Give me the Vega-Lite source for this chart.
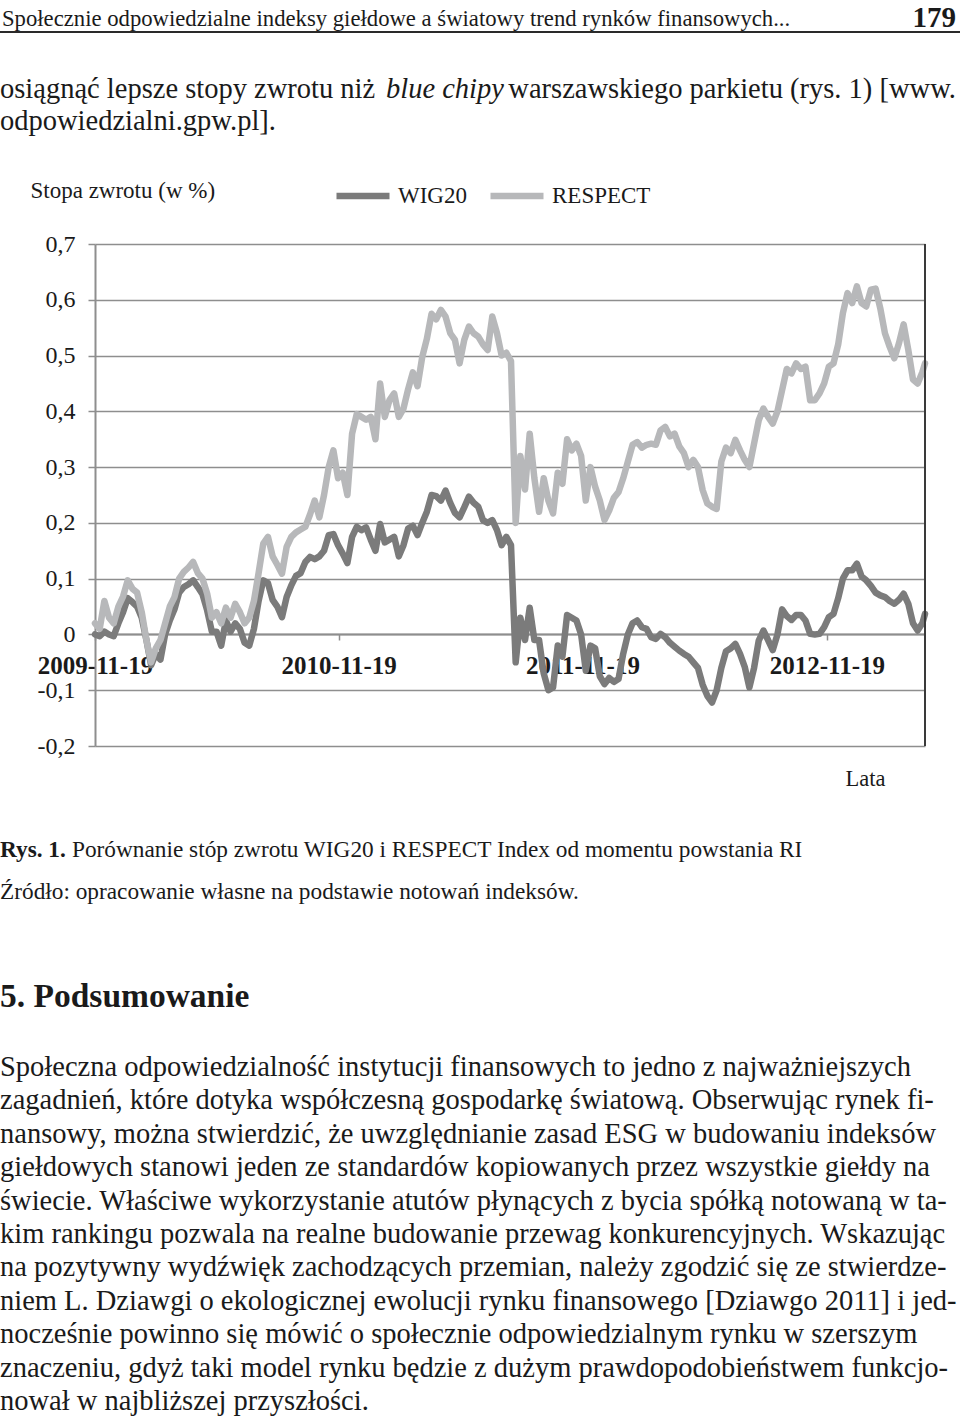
{
  "$schema": "https://vega.github.io/schema/vega-lite/v6.json",
  "width": 960,
  "height": 1418,
  "autosize": {"type": "none"},
  "padding": 0,
  "background": "#ffffff",
  "config": {"view": {"stroke": null}, "font": "Liberation Serif"},
  "datasets": {
    "returns": [
      {"date": "2009-11-19", "WIG20": 0.0, "RESPECT": 0.02},
      {"date": "2009-11-26", "WIG20": -0.003, "RESPECT": 0.01},
      {"date": "2009-12-03", "WIG20": 0.005, "RESPECT": 0.06},
      {"date": "2009-12-10", "WIG20": 0.0, "RESPECT": 0.03},
      {"date": "2009-12-17", "WIG20": -0.003, "RESPECT": 0.02},
      {"date": "2009-12-24", "WIG20": 0.02, "RESPECT": 0.05},
      {"date": "2009-12-31", "WIG20": 0.04, "RESPECT": 0.068},
      {"date": "2010-01-07", "WIG20": 0.065, "RESPECT": 0.097},
      {"date": "2010-01-14", "WIG20": 0.058, "RESPECT": 0.082},
      {"date": "2010-01-21", "WIG20": 0.05, "RESPECT": 0.075},
      {"date": "2010-01-28", "WIG20": 0.03, "RESPECT": 0.04},
      {"date": "2010-02-04", "WIG20": -0.01, "RESPECT": -0.01},
      {"date": "2010-02-11", "WIG20": -0.055, "RESPECT": -0.05},
      {"date": "2010-02-18", "WIG20": -0.035, "RESPECT": -0.025},
      {"date": "2010-02-25", "WIG20": -0.045, "RESPECT": -0.01},
      {"date": "2010-03-04", "WIG20": 0.0, "RESPECT": 0.02},
      {"date": "2010-03-11", "WIG20": 0.025, "RESPECT": 0.05},
      {"date": "2010-03-18", "WIG20": 0.045, "RESPECT": 0.067},
      {"date": "2010-03-25", "WIG20": 0.075, "RESPECT": 0.1},
      {"date": "2010-04-01", "WIG20": 0.085, "RESPECT": 0.112},
      {"date": "2010-04-08", "WIG20": 0.09, "RESPECT": 0.12},
      {"date": "2010-04-15", "WIG20": 0.097, "RESPECT": 0.13},
      {"date": "2010-04-22", "WIG20": 0.085, "RESPECT": 0.11},
      {"date": "2010-04-29", "WIG20": 0.072, "RESPECT": 0.1},
      {"date": "2010-05-06", "WIG20": 0.043, "RESPECT": 0.073},
      {"date": "2010-05-13", "WIG20": 0.005, "RESPECT": 0.03},
      {"date": "2010-05-20", "WIG20": 0.005, "RESPECT": 0.04},
      {"date": "2010-05-27", "WIG20": -0.02, "RESPECT": 0.02},
      {"date": "2010-06-03", "WIG20": 0.025, "RESPECT": 0.048},
      {"date": "2010-06-10", "WIG20": 0.005, "RESPECT": 0.03},
      {"date": "2010-06-17", "WIG20": 0.02, "RESPECT": 0.055},
      {"date": "2010-06-24", "WIG20": 0.01, "RESPECT": 0.04},
      {"date": "2010-07-01", "WIG20": -0.015, "RESPECT": 0.02},
      {"date": "2010-07-08", "WIG20": -0.02, "RESPECT": 0.03},
      {"date": "2010-07-15", "WIG20": 0.01, "RESPECT": 0.06},
      {"date": "2010-07-22", "WIG20": 0.06, "RESPECT": 0.11},
      {"date": "2010-07-29", "WIG20": 0.097, "RESPECT": 0.163},
      {"date": "2010-08-05", "WIG20": 0.092, "RESPECT": 0.175},
      {"date": "2010-08-12", "WIG20": 0.062, "RESPECT": 0.14},
      {"date": "2010-08-19", "WIG20": 0.05, "RESPECT": 0.125},
      {"date": "2010-08-26", "WIG20": 0.031, "RESPECT": 0.109},
      {"date": "2010-09-02", "WIG20": 0.067, "RESPECT": 0.157},
      {"date": "2010-09-09", "WIG20": 0.088, "RESPECT": 0.175},
      {"date": "2010-09-16", "WIG20": 0.105, "RESPECT": 0.183},
      {"date": "2010-09-23", "WIG20": 0.11, "RESPECT": 0.188},
      {"date": "2010-09-30", "WIG20": 0.13, "RESPECT": 0.193},
      {"date": "2010-10-07", "WIG20": 0.139, "RESPECT": 0.215},
      {"date": "2010-10-14", "WIG20": 0.135, "RESPECT": 0.24},
      {"date": "2010-10-21", "WIG20": 0.14, "RESPECT": 0.21},
      {"date": "2010-10-28", "WIG20": 0.15, "RESPECT": 0.25},
      {"date": "2010-11-04", "WIG20": 0.178, "RESPECT": 0.3},
      {"date": "2010-11-11", "WIG20": 0.18, "RESPECT": 0.33},
      {"date": "2010-11-18", "WIG20": 0.16, "RESPECT": 0.28},
      {"date": "2010-11-25", "WIG20": 0.145, "RESPECT": 0.29},
      {"date": "2010-12-02", "WIG20": 0.128, "RESPECT": 0.25},
      {"date": "2010-12-09", "WIG20": 0.175, "RESPECT": 0.36},
      {"date": "2010-12-16", "WIG20": 0.193, "RESPECT": 0.395},
      {"date": "2010-12-23", "WIG20": 0.187, "RESPECT": 0.39},
      {"date": "2010-12-30", "WIG20": 0.192, "RESPECT": 0.385},
      {"date": "2011-01-06", "WIG20": 0.17, "RESPECT": 0.39},
      {"date": "2011-01-13", "WIG20": 0.15, "RESPECT": 0.35},
      {"date": "2011-01-20", "WIG20": 0.198, "RESPECT": 0.45},
      {"date": "2011-01-27", "WIG20": 0.165, "RESPECT": 0.39},
      {"date": "2011-02-03", "WIG20": 0.17, "RESPECT": 0.42},
      {"date": "2011-02-10", "WIG20": 0.175, "RESPECT": 0.432},
      {"date": "2011-02-17", "WIG20": 0.14, "RESPECT": 0.39},
      {"date": "2011-02-24", "WIG20": 0.16, "RESPECT": 0.405},
      {"date": "2011-03-03", "WIG20": 0.19, "RESPECT": 0.44},
      {"date": "2011-03-10", "WIG20": 0.195, "RESPECT": 0.47},
      {"date": "2011-03-17", "WIG20": 0.178, "RESPECT": 0.445},
      {"date": "2011-03-24", "WIG20": 0.2, "RESPECT": 0.497},
      {"date": "2011-03-31", "WIG20": 0.22, "RESPECT": 0.53},
      {"date": "2011-04-07", "WIG20": 0.25, "RESPECT": 0.575},
      {"date": "2011-04-14", "WIG20": 0.248, "RESPECT": 0.565},
      {"date": "2011-04-21", "WIG20": 0.24, "RESPECT": 0.582},
      {"date": "2011-04-28", "WIG20": 0.258, "RESPECT": 0.57},
      {"date": "2011-05-05", "WIG20": 0.236, "RESPECT": 0.54},
      {"date": "2011-05-12", "WIG20": 0.218, "RESPECT": 0.528},
      {"date": "2011-05-19", "WIG20": 0.21, "RESPECT": 0.486},
      {"date": "2011-05-26", "WIG20": 0.228, "RESPECT": 0.528},
      {"date": "2011-06-02", "WIG20": 0.247, "RESPECT": 0.552},
      {"date": "2011-06-09", "WIG20": 0.236, "RESPECT": 0.54},
      {"date": "2011-06-16", "WIG20": 0.229, "RESPECT": 0.534},
      {"date": "2011-06-23", "WIG20": 0.205, "RESPECT": 0.52},
      {"date": "2011-06-30", "WIG20": 0.2, "RESPECT": 0.51},
      {"date": "2011-07-07", "WIG20": 0.205, "RESPECT": 0.57},
      {"date": "2011-07-14", "WIG20": 0.187, "RESPECT": 0.54},
      {"date": "2011-07-21", "WIG20": 0.16, "RESPECT": 0.5},
      {"date": "2011-07-28", "WIG20": 0.175, "RESPECT": 0.505},
      {"date": "2011-08-04", "WIG20": 0.16, "RESPECT": 0.49},
      {"date": "2011-08-11", "WIG20": -0.05, "RESPECT": 0.2},
      {"date": "2011-08-18", "WIG20": 0.03, "RESPECT": 0.32},
      {"date": "2011-08-25", "WIG20": -0.01, "RESPECT": 0.26},
      {"date": "2011-09-01", "WIG20": 0.048, "RESPECT": 0.36},
      {"date": "2011-09-08", "WIG20": -0.01, "RESPECT": 0.28},
      {"date": "2011-09-15", "WIG20": -0.01, "RESPECT": 0.22},
      {"date": "2011-09-22", "WIG20": -0.07, "RESPECT": 0.28},
      {"date": "2011-09-29", "WIG20": -0.1, "RESPECT": 0.24},
      {"date": "2011-10-06", "WIG20": -0.095, "RESPECT": 0.217},
      {"date": "2011-10-13", "WIG20": -0.02, "RESPECT": 0.29},
      {"date": "2011-10-20", "WIG20": -0.04, "RESPECT": 0.27},
      {"date": "2011-10-27", "WIG20": 0.035, "RESPECT": 0.35},
      {"date": "2011-11-03", "WIG20": 0.03, "RESPECT": 0.33},
      {"date": "2011-11-10", "WIG20": 0.025, "RESPECT": 0.342},
      {"date": "2011-11-17", "WIG20": 0.0, "RESPECT": 0.32},
      {"date": "2011-11-24", "WIG20": -0.065, "RESPECT": 0.24},
      {"date": "2011-12-01", "WIG20": -0.02, "RESPECT": 0.3},
      {"date": "2011-12-08", "WIG20": -0.025, "RESPECT": 0.265},
      {"date": "2011-12-15", "WIG20": -0.075, "RESPECT": 0.24},
      {"date": "2011-12-22", "WIG20": -0.089, "RESPECT": 0.205},
      {"date": "2011-12-29", "WIG20": -0.078, "RESPECT": 0.222},
      {"date": "2012-01-05", "WIG20": -0.085, "RESPECT": 0.245},
      {"date": "2012-01-12", "WIG20": -0.08, "RESPECT": 0.255},
      {"date": "2012-01-19", "WIG20": -0.035, "RESPECT": 0.28},
      {"date": "2012-01-26", "WIG20": 0.0, "RESPECT": 0.31},
      {"date": "2012-02-02", "WIG20": 0.02, "RESPECT": 0.34},
      {"date": "2012-02-09", "WIG20": 0.025, "RESPECT": 0.345},
      {"date": "2012-02-16", "WIG20": 0.013, "RESPECT": 0.335},
      {"date": "2012-02-23", "WIG20": 0.01, "RESPECT": 0.34},
      {"date": "2012-03-01", "WIG20": -0.005, "RESPECT": 0.342},
      {"date": "2012-03-08", "WIG20": -0.008, "RESPECT": 0.34},
      {"date": "2012-03-15", "WIG20": 0.001, "RESPECT": 0.366},
      {"date": "2012-03-22", "WIG20": -0.005, "RESPECT": 0.372},
      {"date": "2012-03-29", "WIG20": -0.015, "RESPECT": 0.355},
      {"date": "2012-04-05", "WIG20": -0.022, "RESPECT": 0.36},
      {"date": "2012-04-12", "WIG20": -0.029, "RESPECT": 0.337},
      {"date": "2012-04-19", "WIG20": -0.035, "RESPECT": 0.325},
      {"date": "2012-04-26", "WIG20": -0.04, "RESPECT": 0.3},
      {"date": "2012-05-03", "WIG20": -0.05, "RESPECT": 0.313},
      {"date": "2012-05-10", "WIG20": -0.06, "RESPECT": 0.3},
      {"date": "2012-05-17", "WIG20": -0.09, "RESPECT": 0.259},
      {"date": "2012-05-24", "WIG20": -0.11, "RESPECT": 0.235},
      {"date": "2012-05-31", "WIG20": -0.122, "RESPECT": 0.229},
      {"date": "2012-06-07", "WIG20": -0.1, "RESPECT": 0.225},
      {"date": "2012-06-14", "WIG20": -0.06, "RESPECT": 0.31},
      {"date": "2012-06-21", "WIG20": -0.03, "RESPECT": 0.335},
      {"date": "2012-06-28", "WIG20": -0.025, "RESPECT": 0.325},
      {"date": "2012-07-05", "WIG20": -0.017, "RESPECT": 0.349},
      {"date": "2012-07-12", "WIG20": -0.035, "RESPECT": 0.33},
      {"date": "2012-07-19", "WIG20": -0.058, "RESPECT": 0.313},
      {"date": "2012-07-26", "WIG20": -0.095, "RESPECT": 0.3},
      {"date": "2012-08-02", "WIG20": -0.06, "RESPECT": 0.342},
      {"date": "2012-08-09", "WIG20": -0.011, "RESPECT": 0.384},
      {"date": "2012-08-16", "WIG20": 0.007, "RESPECT": 0.405},
      {"date": "2012-08-23", "WIG20": -0.01, "RESPECT": 0.39},
      {"date": "2012-08-30", "WIG20": -0.028, "RESPECT": 0.378},
      {"date": "2012-09-06", "WIG20": 0.0, "RESPECT": 0.4},
      {"date": "2012-09-13", "WIG20": 0.045, "RESPECT": 0.438},
      {"date": "2012-09-20", "WIG20": 0.033, "RESPECT": 0.476},
      {"date": "2012-09-27", "WIG20": 0.026, "RESPECT": 0.468},
      {"date": "2012-10-04", "WIG20": 0.035, "RESPECT": 0.486},
      {"date": "2012-10-11", "WIG20": 0.035, "RESPECT": 0.476},
      {"date": "2012-10-18", "WIG20": 0.025, "RESPECT": 0.48},
      {"date": "2012-10-25", "WIG20": 0.001, "RESPECT": 0.42},
      {"date": "2012-11-01", "WIG20": 0.0, "RESPECT": 0.42},
      {"date": "2012-11-08", "WIG20": 0.001, "RESPECT": 0.432},
      {"date": "2012-11-15", "WIG20": 0.013, "RESPECT": 0.45},
      {"date": "2012-11-22", "WIG20": 0.031, "RESPECT": 0.48},
      {"date": "2012-11-29", "WIG20": 0.037, "RESPECT": 0.486},
      {"date": "2012-12-06", "WIG20": 0.065, "RESPECT": 0.52},
      {"date": "2012-12-13", "WIG20": 0.1, "RESPECT": 0.576},
      {"date": "2012-12-20", "WIG20": 0.115, "RESPECT": 0.612},
      {"date": "2012-12-27", "WIG20": 0.115, "RESPECT": 0.594},
      {"date": "2013-01-03", "WIG20": 0.127, "RESPECT": 0.624},
      {"date": "2013-01-10", "WIG20": 0.104, "RESPECT": 0.594},
      {"date": "2013-01-17", "WIG20": 0.097, "RESPECT": 0.588},
      {"date": "2013-01-24", "WIG20": 0.087, "RESPECT": 0.618},
      {"date": "2013-01-31", "WIG20": 0.075, "RESPECT": 0.62},
      {"date": "2013-02-07", "WIG20": 0.07, "RESPECT": 0.585},
      {"date": "2013-02-14", "WIG20": 0.067, "RESPECT": 0.54},
      {"date": "2013-02-21", "WIG20": 0.06, "RESPECT": 0.516},
      {"date": "2013-02-28", "WIG20": 0.055, "RESPECT": 0.495},
      {"date": "2013-03-07", "WIG20": 0.062, "RESPECT": 0.522},
      {"date": "2013-03-14", "WIG20": 0.073, "RESPECT": 0.556},
      {"date": "2013-03-21", "WIG20": 0.055, "RESPECT": 0.51},
      {"date": "2013-03-28", "WIG20": 0.02, "RESPECT": 0.457},
      {"date": "2013-04-04", "WIG20": 0.007, "RESPECT": 0.45},
      {"date": "2013-04-11", "WIG20": 0.02, "RESPECT": 0.47},
      {"date": "2013-04-15", "WIG20": 0.037, "RESPECT": 0.486}
    ],
    "paragraph": [
      {"line": 1, "text": "Społeczna odpowiedzialność instytucji finansowych to jedno z najważniejszych"},
      {"line": 2, "text": "zagadnień, które dotyka współczesną gospodarkę światową. Obserwując rynek fi-"},
      {"line": 3, "text": "nansowy, można stwierdzić, że uwzględnianie zasad ESG w budowaniu indeksów"},
      {"line": 4, "text": "giełdowych stanowi jeden ze standardów kopiowanych przez wszystkie giełdy na"},
      {"line": 5, "text": "świecie. Właściwe wykorzystanie atutów płynących z bycia spółką notowaną w ta-"},
      {"line": 6, "text": "kim rankingu pozwala na realne budowanie przewag konkurencyjnych. Wskazując"},
      {"line": 7, "text": "na pozytywny wydźwięk zachodzących przemian, należy zgodzić się ze stwierdze-"},
      {"line": 8, "text": "niem L. Dziawgi o ekologicznej ewolucji rynku finansowego [Dziawgo 2011] i jed-"},
      {"line": 9, "text": "nocześnie powinno się mówić o społecznie odpowiedzialnym rynku w szerszym"},
      {"line": 10, "text": "znaczeniu, gdyż taki model rynku będzie z dużym prawdopodobieństwem funkcjo-"},
      {"line": 11, "text": "nował w najbliższej przyszłości."}
    ]
  },
  "layer": [
    {
      "data": {"name": "returns"},
      "transform": [{"fold": ["WIG20", "RESPECT"], "as": ["series", "value"]}],
      "encoding": {
        "x": {
          "field": "date",
          "type": "temporal",
          "scale": {
            "type": "utc",
            "domain": [
              {"year": 2009, "month": 11, "date": 19, "utc": true},
              {"year": 2013, "month": 4, "date": 15, "utc": true}
            ],
            "range": [95, 925],
            "nice": false
          },
          "axis": {
            "values": [
              {"year": 2009, "month": 11, "date": 19, "utc": true},
              {"year": 2010, "month": 11, "date": 19, "utc": true},
              {"year": 2011, "month": 11, "date": 19, "utc": true},
              {"year": 2012, "month": 11, "date": 19, "utc": true}
            ],
            "format": "%Y-%m-%d",
            "offset": -784,
            "zindex": 0,
            "grid": false,
            "domainColor": "#8e8e8e",
            "domainWidth": 2,
            "tickColor": "#8e8e8e",
            "tickSize": 6,
            "tickWidth": 1.5,
            "labelFont": "Liberation Serif",
            "labelFontWeight": "bold",
            "labelFontSize": 25,
            "labelColor": "#1a1a1a",
            "labelBaseline": "alphabetic",
            "labelPadding": 33,
            "labelOverlap": false,
            "labelFlush": false,
            "title": "Lata",
            "titleFont": "Liberation Serif",
            "titleFontWeight": "normal",
            "titleFontSize": 22.5,
            "titleColor": "#1a1a1a",
            "titleAlign": "left",
            "titleBaseline": "middle",
            "titleAnchor": "start",
            "titleX": 845,
            "titleY": 144
          }
        },
        "y": {
          "field": "value",
          "type": "quantitative",
          "scale": {"domain": [-0.2, 0.7], "range": [746, 244], "nice": false, "zero": false},
          "axis": {
            "values": [-0.2, -0.1, 0, 0.1, 0.2, 0.3, 0.4, 0.5, 0.6, 0.7],
            "labelExpr": "datum.value == 0 ? '0' : (datum.value < 0 ? '-' : '') + replace(format(abs(datum.value), '.1f'), '.', ',')",
            "offset": -95,
            "zindex": 0,
            "grid": true,
            "gridColor": "#8e8e8e",
            "gridWidth": 1.5,
            "domainColor": "#8e8e8e",
            "domainWidth": 2,
            "tickColor": "#8e8e8e",
            "tickSize": 7,
            "tickWidth": 1.5,
            "labelFont": "Liberation Serif",
            "labelFontSize": 24,
            "labelColor": "#1a1a1a",
            "labelPadding": 13,
            "title": "Stopa zwrotu (w %)",
            "titleFont": "Liberation Serif",
            "titleFontWeight": "normal",
            "titleFontSize": 23,
            "titleColor": "#1a1a1a",
            "titleAngle": 0,
            "titleAlign": "left",
            "titleBaseline": "middle",
            "titleAnchor": "start",
            "titleX": -65,
            "titleY": 190
          }
        },
        "color": {
          "field": "series",
          "type": "nominal",
          "scale": {"domain": ["WIG20", "RESPECT"], "range": ["#7b7b7b", "#b7b8ba"]},
          "legend": {
            "orient": "none",
            "legendX": 333,
            "legendY": 166,
            "direction": "horizontal",
            "title": null,
            "symbolType": "stroke",
            "symbolSize": 2809,
            "symbolStrokeWidth": 6.5,
            "labelFont": "Liberation Serif",
            "labelFontSize": 23,
            "labelColor": "#1a1a1a",
            "labelOffset": 5,
            "columnPadding": 10
          }
        }
      },
      "layer": [
        {
          "transform": [{"filter": "datum.series == 'WIG20'"}],
          "mark": {"type": "line", "strokeWidth": 6.5, "strokeJoin": "round", "strokeCap": "round"}
        },
        {
          "transform": [{"filter": "datum.series == 'RESPECT'"}],
          "mark": {"type": "line", "strokeWidth": 6.5, "strokeJoin": "round", "strokeCap": "round"}
        },
        {
          "transform": [{"filter": "datum.series == 'WIG20'"}, {"window": [{"op": "row_number", "as": "n"}]}, {"filter": "datum.n == 1"}],
          "mark": {"type": "rule", "color": "#3a3a3a", "strokeWidth": 2},
          "encoding": {
            "x": {"datum": {"year": 2013, "month": 4, "date": 15, "utc": true}, "type": "temporal"},
            "y": {"datum": -0.2},
            "y2": {"datum": 0.7},
            "color": {"value": "#3a3a3a"}
          }
        }
      ]
    },
    {
      "data": {"values": [{"text": "Społecznie odpowiedzialne indeksy giełdowe a światowy trend rynków finansowych..."}]},
      "mark": {"type": "text", "font": "Liberation Serif", "fontSize": 22.7, "align": "left", "baseline": "middle", "color": "#1a1a1a"},
      "encoding": {"text": {"field": "text"}, "x": {"value": 2}, "y": {"value": 19}}
    },
    {
      "data": {"values": [{"text": "179"}]},
      "mark": {"type": "text", "font": "Liberation Serif", "fontSize": 29, "fontWeight": "bold", "align": "right", "baseline": "middle", "color": "#1a1a1a"},
      "encoding": {"text": {"field": "text"}, "x": {"value": 956}, "y": {"value": 18}}
    },
    {
      "data": {"values": [{"text": "rule"}]},
      "mark": {"type": "rule", "color": "#2a2a2a", "strokeWidth": 2},
      "encoding": {"x": {"value": 0}, "x2": {"value": 960}, "y": {"value": 32}}
    },
    {
      "data": {"values": [{"text": "osiągnąć lepsze stopy zwrotu niż"}]},
      "mark": {"type": "text", "font": "Liberation Serif", "fontSize": 28.5, "align": "left", "baseline": "middle", "color": "#1a1a1a"},
      "encoding": {"text": {"field": "text"}, "x": {"value": 0}, "y": {"value": 89}}
    },
    {
      "data": {"values": [{"text": "blue chipy"}]},
      "mark": {"type": "text", "font": "Liberation Serif", "fontSize": 28.5, "fontStyle": "italic", "align": "left", "baseline": "middle", "color": "#1a1a1a"},
      "encoding": {"text": {"field": "text"}, "x": {"value": 386}, "y": {"value": 89}}
    },
    {
      "data": {"values": [{"text": "warszawskiego parkietu (rys. 1) [www."}]},
      "mark": {"type": "text", "font": "Liberation Serif", "fontSize": 28.5, "align": "right", "baseline": "middle", "color": "#1a1a1a"},
      "encoding": {"text": {"field": "text"}, "x": {"value": 956}, "y": {"value": 89}}
    },
    {
      "data": {"values": [{"text": "odpowiedzialni.gpw.pl]."}]},
      "mark": {"type": "text", "font": "Liberation Serif", "fontSize": 28.5, "align": "left", "baseline": "middle", "color": "#1a1a1a"},
      "encoding": {"text": {"field": "text"}, "x": {"value": 0}, "y": {"value": 121}}
    },
    {
      "data": {"values": [{"text": "Rys. 1."}]},
      "mark": {"type": "text", "font": "Liberation Serif", "fontSize": 23.3, "fontWeight": "bold", "align": "left", "baseline": "middle", "color": "#1a1a1a"},
      "encoding": {"text": {"field": "text"}, "x": {"value": 0}, "y": {"value": 850}}
    },
    {
      "data": {"values": [{"text": "Porównanie stóp zwrotu WIG20 i RESPECT Index od momentu powstania RI"}]},
      "mark": {"type": "text", "font": "Liberation Serif", "fontSize": 23.3, "align": "left", "baseline": "middle", "color": "#1a1a1a"},
      "encoding": {"text": {"field": "text"}, "x": {"value": 72}, "y": {"value": 850}}
    },
    {
      "data": {"values": [{"text": "Źródło: opracowanie własne na podstawie notowań indeksów."}]},
      "mark": {"type": "text", "font": "Liberation Serif", "fontSize": 23.3, "align": "left", "baseline": "middle", "color": "#1a1a1a"},
      "encoding": {"text": {"field": "text"}, "x": {"value": 0}, "y": {"value": 892}}
    },
    {
      "data": {"values": [{"text": "5. Podsumowanie"}]},
      "mark": {"type": "text", "font": "Liberation Serif", "fontSize": 33.5, "fontWeight": "bold", "align": "left", "baseline": "middle", "color": "#1a1a1a"},
      "encoding": {"text": {"field": "text"}, "x": {"value": 0}, "y": {"value": 997}}
    },
    {
      "data": {"name": "paragraph"},
      "mark": {"type": "text", "font": "Liberation Serif", "fontSize": 28.5, "align": "left", "baseline": "middle", "color": "#1a1a1a"},
      "encoding": {
        "text": {"field": "text"},
        "x": {"value": 0},
        "y": {"field": "line", "type": "quantitative", "scale": {"domain": [1, 11], "range": [1067, 1401], "zero": false, "nice": false}, "axis": null}
      }
    }
  ],
  "resolve": {"scale": {"y": "independent"}}
}
